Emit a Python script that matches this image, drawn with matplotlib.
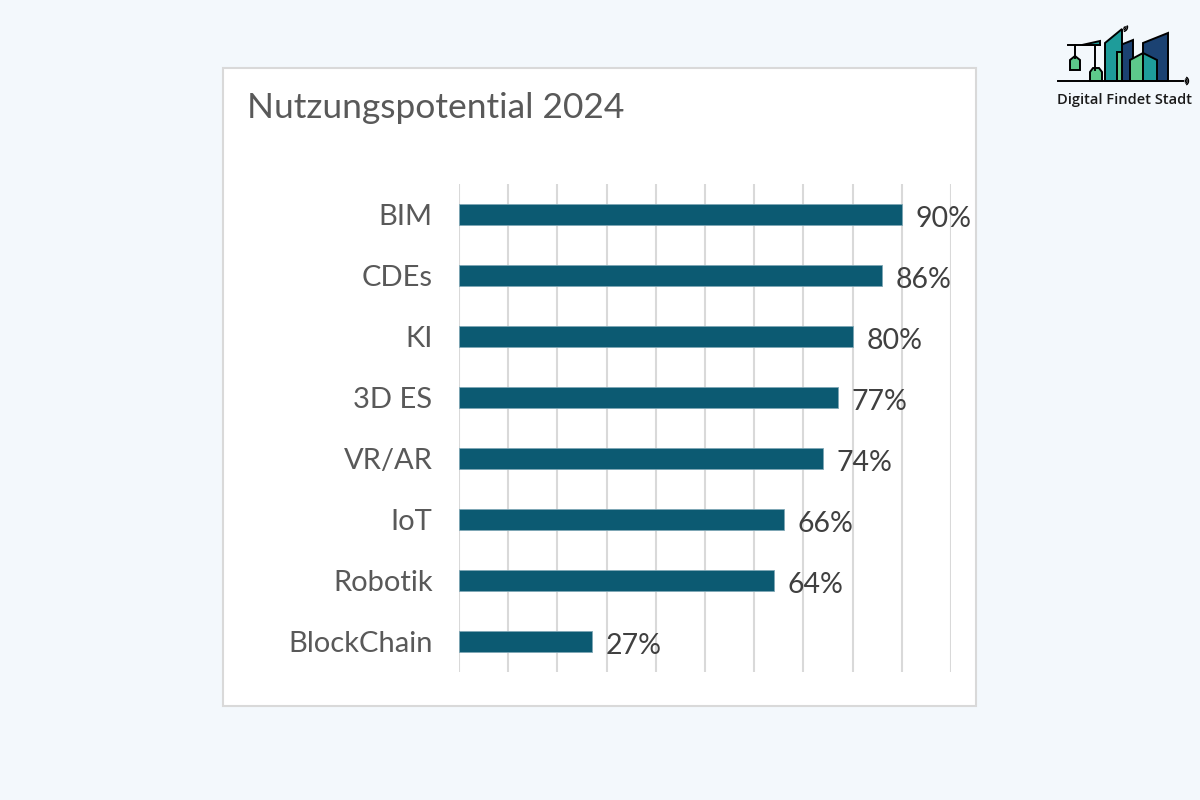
import matplotlib.pyplot as plt
from matplotlib.patches import Rectangle, Polygon, Arc

plt.rcParams['font.family'] = ['Lato', 'DejaVu Sans']

categories = ['BIM', 'CDEs', 'KI', '3D ES', 'VR/AR', 'IoT', 'Robotik', 'BlockChain']
values = [90, 86, 80, 77, 74, 66, 64, 27]
title = 'Nutzungspotential 2024'

bar_color = '#0C5A72'
bg_color = '#F3F8FC'

fig = plt.figure(figsize=(12, 8), dpi=100)
fig.patch.set_facecolor(bg_color)

# white card behind the chart
card = Rectangle((223 / 1200, 1 - 706 / 800), 753 / 1200, 638 / 800,
                 transform=fig.transFigure, facecolor='white',
                 edgecolor='#D9D9D9', linewidth=1.5, zorder=-10)
fig.patches.append(card)

fig.text(247 / 1200, 1 - 108 / 800, title, fontsize=25.5, color='#595959',
         ha='left', va='center')

ax = fig.add_axes([459 / 1200, 1 - 672 / 800, 492 / 1200, 488 / 800])
ax.set_facecolor('none')
y = list(range(len(categories)))
ax.barh(y, values, height=0.36, color=bar_color, edgecolor='#7FA7B5',
        linewidth=0.6, zorder=3)
ax.set_xlim(0, 100)
ax.set_ylim(len(categories) - 0.5, -0.5)
ax.set_xticks(range(0, 101, 10))
ax.grid(axis='x', color='#D9D9D9', linewidth=1.5, zorder=0)
ax.tick_params(axis='x', length=0, labelbottom=False)
ax.tick_params(axis='y', length=0, pad=19, labelsize=21, labelcolor='#595959')
ax.set_yticks(y)
ax.set_yticklabels(categories)
for s in ax.spines.values():
    s.set_visible(False)

for i, v in enumerate(values):
    ax.annotate(f'{v}%', (v, i), xytext=(10, -3), textcoords='offset points',
                ha='left', va='center', fontsize=20.5, color='#404040')

# logo (simplified), drawn in pixel-like coordinates
lg = fig.add_axes([1050 / 1200, 1 - 120 / 800, 150 / 1200, 110 / 800])
lg.set_xlim(1050, 1200)
lg.set_ylim(120, 10)
lg.axis('off')
navy = '#1B4272'
teal = '#1E9C9A'
green = '#5DC98B'
lw = 1.4
lg.add_patch(Polygon([(1108, 50), (1133, 40), (1133, 81), (1108, 81)],
                     facecolor=navy, edgecolor='black', linewidth=lw))
lg.add_patch(Polygon([(1105, 43), (1122, 29), (1122, 81), (1105, 81)],
                     facecolor=teal, edgecolor='black', linewidth=lw))
lg.add_patch(Polygon([(1117, 52), (1122, 52), (1122, 81), (1117, 81)],
                     facecolor=green, edgecolor='black', linewidth=lw))
lg.add_patch(Polygon([(1143, 43), (1168, 33), (1168, 81), (1143, 81)],
                     facecolor=navy, edgecolor='black', linewidth=lw))
lg.add_patch(Polygon([(1130, 60), (1143, 53), (1143, 81), (1130, 81)],
                     facecolor=green, edgecolor='black', linewidth=lw))
lg.add_patch(Polygon([(1143, 53), (1157, 60), (1157, 81), (1143, 81)],
                     facecolor=teal, edgecolor='black', linewidth=lw))
# crane
lg.plot([1068, 1100], [45, 45], color='black', linewidth=lw)
lg.add_patch(Polygon([(1082, 45), (1100, 41), (1100, 45)],
                     facecolor=teal, edgecolor='black', linewidth=lw))
lg.plot([1095, 1095], [45, 70], color='black', linewidth=lw)
lg.plot([1075, 1075], [45, 58], color='black', linewidth=lw)
lg.add_patch(Polygon([(1070, 60), (1075, 56), (1080, 60), (1080, 70), (1070, 70)],
                     facecolor=green, edgecolor='black', linewidth=lw))
lg.add_patch(Polygon([(1090, 72), (1093, 68), (1099, 68), (1102, 72), (1102, 81), (1090, 81)],
                     facecolor=green, edgecolor='black', linewidth=lw))
lg.plot([1058, 1183], [81, 81], color='black', linewidth=lw)
for r in (3, 6, 9):
    lg.add_patch(Arc((1184, 81), r, r, theta1=-60, theta2=60, color='black', linewidth=1))
    lg.add_patch(Arc((1123, 27), r, r, theta1=-20, theta2=80, color='black', linewidth=1))
lg.text(1125, 100, 'Digital Findet Stadt', ha='center', va='center',
        fontsize=10.5, color='#1A1A1A', family=['Open Sans', 'DejaVu Sans'],
        fontweight='semibold')

fig.savefig('out.png', dpi=100, facecolor=bg_color)
